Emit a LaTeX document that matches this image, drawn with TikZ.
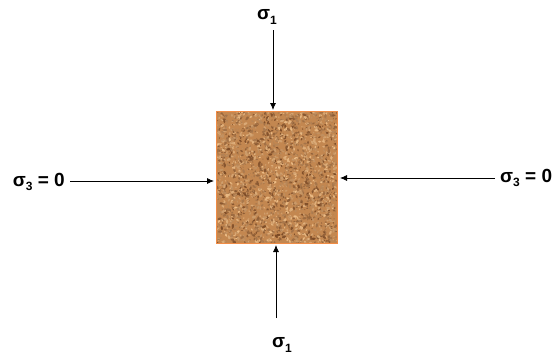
\documentclass[tikz,border=0pt]{standalone}
\usepackage{fontspec}
\setmainfont{Liberation Sans}
\usetikzlibrary{arrows.meta}
\definecolor{dk}{RGB}{125,75,38}
\definecolor{lt}{RGB}{238,190,135}
\definecolor{basec}{RGB}{195,135,80}
\definecolor{edgec}{RGB}{240,140,70}
\tikzset{
  lbl/.style={font=\bfseries\fontsize{19}{21}\selectfont, inner sep=1pt},
  force/.style={line width=0.8pt, -{Latex[length=7pt,width=6pt]}}
}
\newcommand{\sigsub}[1]{σ\raisebox{-0.45ex}{\fontsize{12}{13}\selectfont #1}}
\begin{document}
\begin{tikzpicture}[x=1pt,y=-1pt]
\useasboundingbox (0,0) rectangle (560,354);
% specimen
\node[draw=none, fill=basec, minimum width=120pt, minimum height=131pt, inner sep=0pt] (box) at (277,177.5) {};
\begin{scope}
\clip (217,112) rectangle (337,243);
\pgfmathsetseed{11}
\foreach \i in {1,...,2600}{
  \pgfmathsetmacro\xx{217+120*rnd}
  \pgfmathsetmacro\yy{112+131*rnd}
  \pgfmathsetmacro\cc{int(100*rnd)}
  \pgfmathsetmacro\rr{0.8+1.4*rnd}
  \pgfmathsetmacro\aa{180*rnd}
  \fill[lt!\cc!dk, rotate around={\aa:(\xx,\yy)}] (\xx,\yy) ellipse[x radius=\rr pt, y radius=0.55*\rr pt];
}
\end{scope}
\draw[edgec, line width=1.2pt] (box.north west) rectangle (box.south east);
% labels
\node[lbl] (top) at (267,17) {\sigsub{1}};
\node[lbl] (bot) at (282,345) {\sigsub{1}};
\node[lbl, anchor=east] (left) at (66,182) {\sigsub{3} = 0};
\node[lbl, anchor=west] (right) at (499,178) {\sigsub{3} = 0};
% arrow end points
\coordinate (ts) at (273,30);
\coordinate (te) at (273,110);
\coordinate (bs) at (276,318);
\coordinate (be) at (276,245);
\coordinate (ls) at (70,181);
\coordinate (le) at (214,181);
\coordinate (rs) at (495,178);
\coordinate (re) at (340,178);
\draw[force] (ts) -- (te);
\draw[force] (bs) -- (be);
\draw[force] (ls) -- (le);
\draw[force] (rs) -- (re);
\end{tikzpicture}
\end{document}
